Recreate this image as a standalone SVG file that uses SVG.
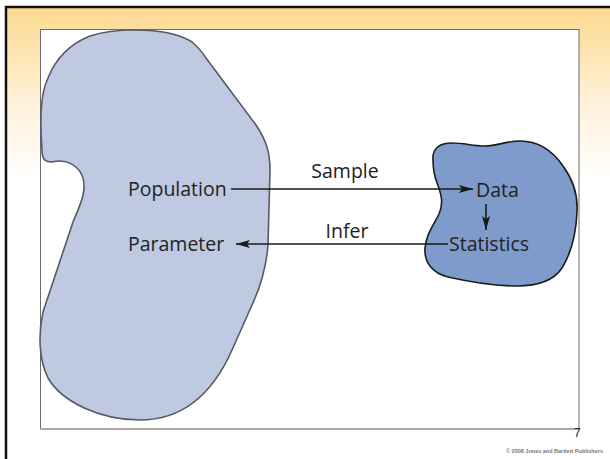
<svg xmlns="http://www.w3.org/2000/svg" width="610" height="459" viewBox="0 0 610 459">
  <defs>
    <linearGradient id="bg" x1="0" y1="7" x2="0" y2="180" gradientUnits="userSpaceOnUse">
      <stop offset="0" stop-color="#FCD98F"/>
      <stop offset="0.55" stop-color="#FFF1D9"/>
      <stop offset="1" stop-color="#FFFFFF"/>
    </linearGradient>
    <marker id="ah" viewBox="0 0 14 8" refX="14" refY="4" markerWidth="14" markerHeight="8" markerUnits="userSpaceOnUse" orient="auto">
      <path d="M0,0 L14,4 L0,8 L3,4 Z" fill="#1a1a1a"/>
    </marker>
    <style>
      .lbl { font-family: "Open Sans", "Liberation Sans", sans-serif; font-size: 19.5px; fill: #222; }
      .conn { stroke: #1a1a1a; stroke-width: 1.6; fill: none; }
    </style>
  </defs>

  <rect x="0" y="0" width="610" height="459" fill="#FFFFFF"/>
  <rect x="6" y="7" width="620" height="470" fill="url(#bg)" stroke="#111" stroke-width="2.5"/>
  <rect x="40.5" y="29.5" width="538.5" height="399" fill="#FFFFFF" stroke="#6b6b6b" stroke-width="1"/>
  <line x1="40" y1="429" x2="579" y2="429" stroke="#a8a8a8" stroke-width="2"/>

  <g id="population-blob">
    <path d="M42,150 C40,120 40,95 48,78 C56,58 70,44 90,36 C105,31 120,30 135,30 C160,30 178,33 192,42 C198,47 202,52 206,58 L256,125 C266,140 270,152 270,170 L268,245 C266,270 260,288 252,305 L232,350 C212,395 182,420 140,420 C100,420 62,402 48,378 C39,360 38,335 43,312 L73,222 C80,205 88,190 82,175 C76,163 64,159 52,162 C44,162 42,158 42,150 Z" fill="#BFC9E2" stroke="#555A66" stroke-width="1.6"/>
  </g>

  <g id="sample-blob">
    <path d="M433,160 C432,148 440,143 452,143 C465,143 472,146 485,146 C498,146 505,141 520,141 C538,141 552,150 563,166 C574,181 578,196 577,212 C576,235 570,255 562,268 C554,280 540,286 517,286 C495,286 470,282 448,277 C432,273 424,262 425,248 C426,235 433,226 439,214 C444,203 441,193 437,183 C434,175 433,168 433,160 Z" fill="#7E9BCB" stroke="#1c1c1c" stroke-width="1.6"/>
  </g>

  <g id="population">
    <text class="lbl" x="128" y="196">Population</text>
  </g>
  <g id="parameter">
    <text class="lbl" x="128" y="251">Parameter</text>
  </g>
  <g id="data">
    <text class="lbl" x="476" y="197">Data</text>
  </g>
  <g id="statistics">
    <text class="lbl" x="449" y="251">Statistics</text>
  </g>

  <g id="connectors">
    <line class="conn" x1="231" y1="189" x2="473" y2="189" marker-end="url(#ah)"/>
    <text class="lbl" x="345" y="178" text-anchor="middle">Sample</text>
    <line class="conn" x1="448" y1="244" x2="236" y2="244" marker-end="url(#ah)"/>
    <text class="lbl" x="347" y="238" text-anchor="middle">Infer</text>
    <line class="conn" x1="486" y1="204" x2="486" y2="230" marker-end="url(#ah)"/>
  </g>

  <text x="574" y="437" font-family="Liberation Sans, sans-serif" font-size="12" fill="#222">7</text>
  <text x="603" y="453" text-anchor="end" font-family="Liberation Sans, sans-serif" font-size="5.5" font-weight="bold" fill="#777">© 2008 Jones and Bartlett Publishers</text>
</svg>
